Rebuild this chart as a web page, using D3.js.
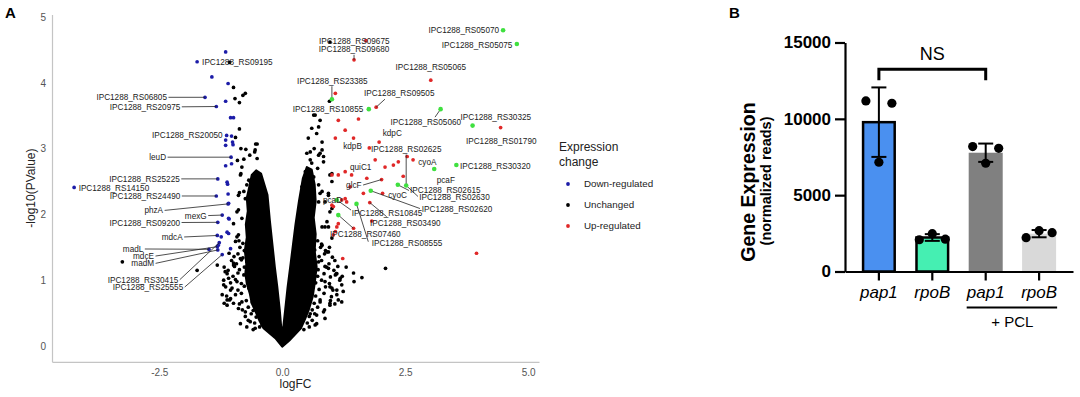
<!DOCTYPE html>
<meta charset="utf-8">
<style>
  body { margin: 0; background: #fff; }
  svg { font-family: "Liberation Sans", Arial, sans-serif; }
  .vaxis .domain { stroke: #c4c4c4; stroke-width: 1.2; }
  .vaxis text { fill: #555; font-size: 10px; }
  .baxis .domain, .baxis line { stroke: #000; stroke-width: 2.2; }
  .baxis text { fill: #000; font-size: 17px; }
</style>
<svg width="1080" height="397"></svg>
<script src="https://d3js.org/d3.v7.min.js"></script>
<script>
  // ---------- Panel A data: [logFC, -log10(PValue)] ----------
  var volcanoXTicks = [-2.5, 0, 2.5, 5.0];
  var volcanoYTicks = [0, 1, 2, 3, 4, 5];

  // outline of the dense V of unchanged genes
  var coreOutline = [
    [0.0, -0.01], [-0.14, 0.12], [-0.38, 0.27], [-0.46, 0.38], [-0.54, 0.52],
    [-0.62, 0.65], [-0.66, 0.80], [-0.72, 0.95], [-0.75, 1.10], [-0.73, 1.25],
    [-0.76, 1.45], [-0.72, 1.65], [-0.74, 1.85], [-0.70, 2.05], [-0.72, 2.25],
    [-0.66, 2.45], [-0.62, 2.60], [-0.53, 2.67], [-0.43, 2.62],
    [-0.30, 2.30], [-0.25, 1.90], [-0.20, 1.55], [-0.15, 1.20], [-0.10, 0.90],
    [-0.05, 0.55], [-0.02, 0.28],
    [0.02, 0.28], [0.06, 0.55], [0.11, 0.90], [0.17, 1.25], [0.22, 1.55],
    [0.27, 1.85], [0.34, 2.20], [0.42, 2.55], [0.50, 2.72],
    [0.60, 2.68], [0.66, 2.45], [0.68, 2.20], [0.64, 1.95], [0.68, 1.70],
    [0.66, 1.45], [0.70, 1.20], [0.66, 0.95], [0.62, 0.75], [0.54, 0.55],
    [0.46, 0.40], [0.38, 0.27], [0.14, 0.08]
  ];

  var unchangedPts = [
    [-1.07, 4.31], [-0.99, 3.93], [-0.75, 3.84], [-0.80, 3.81], [-0.96, 3.76], [-0.87, 3.70],
    [-0.87, 3.30], [-0.95, 3.17], [-0.54, 3.07], [-0.51, 3.07], [-0.84, 3.00], [-0.74, 2.99],
    [-0.55, 2.98], [-0.56, 2.95], [-0.66, 2.90], [-0.51, 2.85], [-0.78, 2.84], [-0.91, 2.82],
    [-0.82, 2.72], [-0.84, 2.62], [-0.85, 2.60], [-0.65, 2.50], [-0.68, 2.52], [-0.72, 2.45],
    [-0.87, 2.33], [-0.78, 2.35], [-0.89, 2.29], [-0.75, 2.24], [-0.89, 2.07], [-0.92, 2.04],
    [-0.82, 1.94], [-0.99, 1.86], [-0.92, 1.66], [-0.89, 1.69], [-0.95, 1.59], [-0.72, 1.53],
    [-1.16, 1.13], [-1.09, 1.03], [-1.19, 0.93], [-1.02, 0.88], [-1.22, 0.78], [-1.05, 0.72],
    [-0.95, 0.78], [-1.12, 0.62], [-0.89, 0.57], [-0.75, 0.52], [-0.82, 0.67], [-0.92, 0.98],
    [-0.78, 1.08], [-0.72, 1.28], [-0.85, 1.33], [-0.99, 1.23], [-0.68, 0.88], [-0.61, 0.67],
    [-0.65, 0.37], [-0.55, 0.27], [-0.41, 0.32], [-0.48, 0.47], [-1.32, 1.23], [-1.12, 1.10],
    [-1.19, 1.00], [-1.05, 0.85], [-1.12, 0.70], [-0.99, 0.65], [-0.85, 0.34], [-0.72, 0.29],
    [-0.99, 1.26], [-1.73, 1.15], [-3.25, 1.28],
    [-0.86, 1.50], [-0.77, 1.45], [-1.08, 1.41], [-0.98, 1.36], [-0.90, 1.40], [-0.80, 1.34],
    [-1.03, 1.30], [-0.93, 1.25], [-0.83, 1.31], [-1.18, 1.20], [-1.10, 1.15], [-0.97, 1.21],
    [-0.87, 1.16], [-0.77, 1.20], [-1.00, 1.06], [-0.90, 1.11], [-0.69, 1.05], [-1.05, 0.96],
    [-0.95, 1.01], [-0.83, 0.95], [-1.15, 0.90], [-0.90, 0.85], [-0.77, 0.91], [-1.13, 0.76],
    [-0.83, 0.80], [-1.18, 0.65], [-1.07, 0.70], [-0.87, 0.64], [-0.73, 0.69], [-0.81, 0.55],
    [-0.69, 0.59], [-0.59, 0.54], [-0.75, 0.45], [-0.63, 0.49], [-0.53, 0.44], [-0.69, 0.39],
    [-0.56, 0.35], [-0.59, 0.25], [-0.46, 0.29], [-0.88, 1.60], [-0.80, 1.56],
    [0.97, 4.62], [0.96, 3.72], [0.64, 3.51], [0.67, 3.51], [0.77, 3.43], [0.60, 3.31],
    [0.74, 3.33], [0.70, 3.23], [0.53, 3.16], [0.81, 3.10], [0.81, 2.98], [0.57, 2.95],
    [0.77, 2.93], [0.50, 2.93], [0.84, 2.88], [0.74, 2.90], [0.57, 2.83], [0.84, 2.80],
    [0.60, 2.78], [0.47, 2.65], [0.50, 2.62], [1.01, 2.62], [0.60, 2.57], [0.64, 2.57],
    [0.97, 2.60], [1.01, 2.50], [0.74, 2.45], [0.40, 2.42], [0.81, 2.35], [0.57, 2.32],
    [0.77, 2.32], [0.94, 2.32], [0.94, 2.29], [0.87, 2.19], [0.74, 2.19], [1.01, 2.09],
    [0.97, 2.04], [0.91, 1.89], [0.81, 1.81], [0.87, 1.81], [0.94, 1.81], [1.01, 1.64],
    [0.81, 1.53], [0.91, 1.43], [0.94, 1.43], [0.74, 1.28], [0.94, 1.18], [1.08, 1.08],
    [1.18, 1.03], [1.24, 0.83], [0.87, 0.98], [1.01, 0.88], [1.11, 0.78], [0.77, 0.67],
    [0.97, 0.62], [1.21, 0.67], [0.70, 0.47], [0.87, 0.42], [0.67, 0.32], [1.30, 1.20],
    [1.45, 1.11], [1.62, 1.04], [1.46, 0.98], [2.10, 1.18], [1.11, 0.85], [1.14, 0.70],
    [0.97, 0.65], [0.87, 1.21], [1.11, 1.10], [1.21, 0.93], [0.97, 0.90], [0.77, 0.70],
    [0.84, 0.52], [0.57, 0.49],
    [0.72, 1.60], [0.80, 1.55], [0.66, 1.46], [0.78, 1.50], [0.88, 1.45], [0.96, 1.50],
    [0.75, 1.36], [0.86, 1.40], [1.02, 1.35], [0.68, 1.26], [0.80, 1.30], [0.95, 1.25],
    [1.07, 1.30], [0.73, 1.16], [0.90, 1.20], [1.05, 1.15], [1.13, 1.21], [0.72, 1.06],
    [0.85, 1.10], [0.98, 1.05], [1.10, 1.10], [1.22, 1.06], [0.68, 0.96], [0.80, 1.00],
    [0.96, 0.95], [1.17, 1.00], [0.75, 0.86], [0.88, 0.90], [1.03, 0.85], [0.68, 0.76],
    [0.85, 0.80], [1.00, 0.75], [0.65, 0.65], [0.98, 0.69], [1.07, 0.64], [0.61, 0.55],
    [0.72, 0.59], [0.86, 0.55], [0.55, 0.45], [0.66, 0.49], [0.51, 0.35], [0.61, 0.39],
    [0.70, 0.34], [0.44, 0.25], [0.55, 0.29], [0.72, 2.70], [0.65, 3.00]
  ];

  var downPts = [
    [-1.15, 4.47], [-1.73, 4.32], [-1.43, 4.09], [-1.10, 3.99], [-1.57, 3.78], [-1.15, 3.72],
    [-1.34, 3.64], [-1.05, 3.47], [-0.99, 3.47], [-1.13, 3.20], [-1.03, 3.19], [-1.15, 3.13],
    [-1.01, 3.10], [-1.15, 3.05], [-1.00, 3.06], [-1.04, 2.87], [-1.15, 2.74], [-1.03, 2.77],
    [-1.31, 2.54], [-1.12, 2.49], [-1.11, 2.46], [-4.23, 2.41], [-1.34, 2.28], [-1.10, 2.31],
    [-1.10, 2.16], [-1.22, 1.99], [-1.08, 1.93], [-1.31, 1.88], [-1.12, 1.73], [-1.32, 1.68],
    [-1.24, 1.66], [-1.28, 1.57], [-1.49, 1.47], [-1.32, 1.51], [-1.31, 1.46], [-1.05, 1.48],
    [-1.22, 1.39], [-1.09, 2.17], [-1.09, 1.94], [-1.09, 1.71], [-1.30, 1.53]
  ];

  var upPts = [
    [1.70, 4.64], [1.46, 4.35], [3.02, 4.04], [1.08, 3.84], [1.91, 3.63], [4.44, 3.32],
    [1.14, 3.43], [1.55, 3.45], [1.28, 3.28], [1.08, 3.16], [1.45, 3.16], [1.97, 3.10],
    [1.77, 3.01], [1.89, 2.83], [2.09, 2.72], [2.26, 2.75], [2.36, 2.80], [2.54, 2.88],
    [2.66, 2.83], [1.28, 2.65], [1.41, 2.60], [1.72, 2.55], [2.02, 2.53], [2.46, 2.58],
    [1.01, 2.60], [1.14, 2.60], [1.38, 2.42], [2.04, 2.32], [1.21, 2.22], [1.01, 2.14],
    [1.31, 2.19], [1.78, 2.18], [1.65, 2.32], [1.82, 1.90], [1.14, 1.86], [1.11, 1.81],
    [1.04, 1.69], [1.08, 1.74], [1.45, 1.79], [1.23, 1.33], [3.95, 1.41], [1.28, 2.24],
    [1.04, 2.12]
  ];

  // highlighted genes (green)
  var highlightPts = [
    [4.49, 4.80], [4.77, 4.59], [1.01, 3.75], [1.76, 3.60], [3.22, 3.60], [3.87, 3.35],
    [3.09, 2.69], [3.54, 2.75], [2.35, 2.45], [2.52, 2.44], [1.80, 2.36], [1.11, 2.22],
    [1.51, 2.16], [1.14, 1.99]
  ];

  // gene labels: name and the point they belong to
  var labelGenes = [
    ["IPC1288_RS09195", -1.73, 4.32], ["IPC1288_RS06805", -1.57, 3.78],
    ["IPC1288_RS20975", -1.34, 3.64], ["IPC1288_RS20050", -1.13, 3.20],
    ["leuD", -1.04, 2.87], ["IPC1288_RS25225", -1.31, 2.54],
    ["IPC1288_RS14150", -4.23, 2.41], ["IPC1288_RS24490", -1.34, 2.28],
    ["phzA", -1.10, 2.16], ["mexG", -1.22, 1.99],
    ["IPC1288_RS09200", -1.31, 1.88], ["mdcA", -1.32, 1.68],
    ["madL", -1.49, 1.47], ["mdcE", -1.32, 1.51],
    ["madM", -1.31, 1.46], ["IPC1288_RS30415", -1.28, 1.57],
    ["IPC1288_RS25555", -1.22, 1.39],
    ["IPC1288_RS05070", 4.49, 4.80], ["IPC1288_RS05075", 4.77, 4.59],
    ["IPC1288_RS09675", 1.70, 4.64], ["IPC1288_RS09680", 1.46, 4.35],
    ["IPC1288_RS05065", 3.02, 4.04], ["IPC1288_RS23385", 1.01, 3.75],
    ["IPC1288_RS09505", 1.91, 3.63], ["IPC1288_RS10855", 1.76, 3.60],
    ["IPC1288_RS05060", 3.22, 3.60], ["IPC1288_RS30325", 3.87, 3.35],
    ["IPC1288_RS01790", 4.44, 3.32], ["kdpC", 1.97, 3.10],
    ["kdpB", 1.45, 3.16], ["IPC1288_RS02625", 2.52, 2.44],
    ["cyoA", 2.66, 2.83], ["pcaF", 3.09, 2.69],
    ["IPC1288_RS30320", 3.54, 2.75], ["quiC1", 1.28, 2.65],
    ["glcF", 2.02, 2.53], ["IPC1288_RS02615", 2.35, 2.45],
    ["IPC1288_RS02630", 2.52, 2.44], ["cyoC", 2.04, 2.32],
    ["IPC1288_RS02620", 1.80, 2.36], ["pcaD", 1.11, 2.22],
    ["IPC1288_RS10845", 1.11, 2.22], ["IPC1288_RS03490", 1.78, 2.18],
    ["IPC1288_RS07460", 1.14, 1.99], ["IPC1288_RS08555", 1.51, 2.16]
  ];

  // label placement in px relative to the point: dx, dy, anchor, line start
  var labelNudge = [
    [5, 3.5, "start"], [-38, 3, "end", "auto"], [-36, 3.3, "end", "auto"], [-4, 3, "end"],
    [-65, 3, "end", "auto"], [-38, 3, "end", "auto"], [4.5, 3.5, "start"], [-36, 3, "end", "auto"],
    [-65, 9.5, "end", "auto"], [-15.5, 3.5, "end", "auto"], [-37.7, 3.2, "end", "auto"],
    [-34.6, 4.5, "end", "auto"], [-65.6, 2.7, "end", "auto"], [-63.3, 12.4, "end", "auto"],
    [-63.7, 16.4, "end", "auto"], [-41, 40, "end", "auto"], [-39, 35.5, "end", "auto"],
    [-4, 3.3, "end"], [-4.5, 3.5, "end"],
    [-11.6, 3.3, "middle"], [0, -7.3, "middle", [0, -5]],
    [0, -9.7, "middle"], [0.5, -15.3, "middle", [0, -13]],
    [23, -11, "middle", [8.8, -8]], [-5.5, 3, "end"],
    [-14.8, 15.4, "middle", [-5.6, 8]], [23.2, -5.6, "middle"],
    [0.6, 16, "middle"], [3.6, -6, "start"],
    [-1, 11.4, "middle"], [0, -33.5, "middle", [0, -31]],
    [5.2, 4.7, "start"], [11.6, 14, "middle"],
    [3.6, 3.5, "start"], [4.8, -2, "start"],
    [-20, 8.5, "end", "auto"], [12.2, 8.4, "start", [11.2, 5.7]],
    [13, 14.6, "start", [11.8, 11]], [5.7, 4.7, "start"],
    [51, 21.3, "start", [49.2, 17.8]], [-4.3, 3, "middle"],
    [15, 16, "start", [14.2, 10.1]], [0.2, 23.4, "start", [16.9, 14.1]],
    [-8.3, 22, "start", [15, 13.2]], [15.2, 42, "start", [11.8, 37.8]]
  ];

  var legendKeys = ["Down-regulated", "Unchanged", "Up-regulated"];

  // ---------- Panel B data ----------
  var barGenes = ["pap1", "rpoB", "pap1", "rpoB"];
  // replicates, left / middle / right dot
  var barReps = [
    [11170, 7155, 11020],
    [2080, 2480, 2120],
    [8180, 7090, 8070],
    [2215, 2675, 2545]
  ];
  var barTicks = [0, 5000, 10000, 15000];
  var barFill = ["#4a90f0", "#45efb2", "#808080", "#d9d9d9"];
  var barOutlined = [true, true, false, false];

  var svg = d3.select("svg");
  svg.append("rect").attr("width", 1080).attr("height", 397).attr("fill", "#fff");

  // ================= Panel A =================
  var x = d3.scaleLinear().domain([-4.68, 5.22]).range([52, 539]);
  var y = d3.scaleLinear().domain([-0.24, 5.04]).range([361.8, 14.4]);
  var col = d3.scaleOrdinal().domain(legendKeys).range(["#1c1ca8", "#000", "#e02828"]);

  var gA = svg.append("g");

  gA.append("g")
    .attr("class", "vaxis")
    .attr("transform", "translate(0," + y.range()[0] + ")")
    .call(d3.axisBottom(x).tickValues(volcanoXTicks)
      .tickFormat(function(d) { return d.toFixed(1); })
      .tickSize(0).tickSizeOuter(0).tickPadding(7));

  gA.append("g")
    .attr("class", "vaxis")
    .attr("transform", "translate(" + x.range()[0] + ",0)")
    .call(d3.axisLeft(y).tickValues(volcanoYTicks).tickFormat(d3.format("d"))
      .tickSize(0).tickSizeOuter(0).tickPadding(6));

  gA.append("text")
    .attr("x", d3.mean(x.range())).attr("y", 387.5)
    .attr("text-anchor", "middle").attr("font-size", 12).attr("fill", "#222")
    .text("logFC");

  gA.append("text")
    .attr("transform", "translate(35," + d3.mean(y.range()) + ") rotate(-90)")
    .attr("text-anchor", "middle").attr("font-size", 12).attr("fill", "#222")
    .text("-log10(PValue)");

  // dense core
  gA.append("path")
    .datum(coreOutline)
    .attr("d", d3.line()
      .x(function(d) { return x(d[0]); })
      .y(function(d) { return y(d[1]); })
      .curve(d3.curveLinearClosed))
    .attr("fill", "#000")
    .attr("stroke", "#000")
    .attr("stroke-width", 2)
    .attr("stroke-linejoin", "round");

  function dots(data, fill) {
    gA.append("g")
      .selectAll("circle")
      .data(data)
      .enter()
      .append("circle")
      .attr("cx", function(d) { return x(d[0]); })
      .attr("cy", function(d) { return y(d[1]); })
      .attr("r", 1.85)
      .attr("fill", fill);
  }
  dots(unchangedPts, col("Unchanged"));
  dots(downPts, col("Down-regulated"));
  dots(upPts, col("Up-regulated"));

  // label leader lines
  var lab = labelGenes.map(function(d, i) {
    var n = labelNudge[i];
    return { name: d[0], px: x(d[1]), py: y(d[2]), dx: n[0], dy: n[1], anchor: n[2], line: n[3] };
  });

  gA.append("g")
    .selectAll("line")
    .data(lab.filter(function(d) { return d.line; }))
    .enter()
    .append("line")
    .attr("x1", function(d) { return d.line === "auto" ? d.px + d.dx + 1.5 : d.px + d.line[0]; })
    .attr("y1", function(d) { return d.line === "auto" ? d.py + d.dy - 3 : d.py + d.line[1]; })
    .attr("x2", function(d) { return d.px; })
    .attr("y2", function(d) { return d.py; })
    .attr("stroke", "#222")
    .attr("stroke-width", 0.8);

  gA.append("g")
    .selectAll("circle")
    .data(highlightPts)
    .enter()
    .append("circle")
    .attr("cx", function(d) { return x(d[0]); })
    .attr("cy", function(d) { return y(d[1]); })
    .attr("r", 2.3)
    .attr("fill", "#3fe03f");

  gA.append("g")
    .attr("font-size", 8.2)
    .attr("fill", "#222")
    .selectAll("text")
    .data(lab)
    .enter()
    .append("text")
    .attr("x", function(d) { return d.px + d.dx; })
    .attr("y", function(d) { return d.py + d.dy; })
    .attr("text-anchor", function(d) { return d.anchor; })
    .text(function(d) { return d.name; });

  // legend
  var leg = svg.append("g").attr("transform", "translate(559,0)");
  leg.append("text").attr("y", 151).attr("font-size", 12).attr("fill", "#222").text("Expression");
  leg.append("text").attr("y", 165.5).attr("font-size", 12).attr("fill", "#222").text("change");
  var li = leg.selectAll("g.item")
    .data(legendKeys)
    .enter()
    .append("g")
    .attr("class", "item")
    .attr("transform", function(d, i) { return "translate(0," + (184 + i * 21) + ")"; });
  li.append("circle").attr("cx", 9).attr("r", 1.9).attr("fill", col);
  li.append("text").attr("x", 25).attr("dy", "0.35em").attr("font-size", 9.8).attr("fill", "#222")
    .text(function(d) { return d; });

  svg.append("text").attr("x", 5).attr("y", 18).attr("font-size", 15).attr("font-weight", "bold").text("A");
  svg.append("text").attr("x", 729).attr("y", 18).attr("font-size", 15).attr("font-weight", "bold").text("B");

  // ================= Panel B =================
  var yB = d3.scaleLinear().domain([0, 15000]).range([271.5, 42.5]);
  var xB = d3.scaleBand()
    .domain(d3.range(barGenes.length))
    .range([845, 1073])
    .paddingInner(0.363)
    .paddingOuter(0.316);

  var bars = barReps.map(function(r, i) {
    return { i: i, mean: d3.mean(r), sd: d3.deviation(r), reps: r };
  });

  var gB = svg.append("g");

  gB.selectAll("rect.bar")
    .data(bars)
    .enter()
    .append("rect")
    .attr("class", "bar")
    .attr("x", function(d) { return xB(d.i) + (barOutlined[d.i] ? 1.2 : 0); })
    .attr("width", function(d) { return xB.bandwidth() - (barOutlined[d.i] ? 2.4 : 0); })
    .attr("y", function(d) { return yB(d.mean); })
    .attr("height", function(d) { return yB(0) - yB(d.mean); })
    .attr("fill", function(d) { return barFill[d.i]; })
    .attr("stroke", function(d) { return barOutlined[d.i] ? "#000" : "none"; })
    .attr("stroke-width", 2.5);

  // error bars (mean +/- SD)
  var eb = gB.selectAll("g.err")
    .data(bars)
    .enter()
    .append("g")
    .attr("class", "err")
    .attr("stroke", "#000")
    .attr("stroke-width", 2)
    .attr("transform", function(d) { return "translate(" + (xB(d.i) + xB.bandwidth() / 2) + ",0)"; });
  eb.append("line")
    .attr("y1", function(d) { return yB(d.mean - d.sd); })
    .attr("y2", function(d) { return yB(d.mean + d.sd); });
  eb.append("line").attr("x1", -7.5).attr("x2", 7.5)
    .attr("y1", function(d) { return yB(d.mean + d.sd); })
    .attr("y2", function(d) { return yB(d.mean + d.sd); });
  eb.append("line").attr("x1", -7.5).attr("x2", 7.5)
    .attr("y1", function(d) { return yB(d.mean - d.sd); })
    .attr("y2", function(d) { return yB(d.mean - d.sd); });

  // replicate dots
  var jitter = [-13, 0, 13];
  eb.selectAll("circle")
    .data(function(d) { return d.reps; })
    .enter()
    .append("circle")
    .attr("cx", function(d, j) { return jitter[j]; })
    .attr("cy", function(d) { return yB(d); })
    .attr("r", 4.6)
    .attr("fill", "#000")
    .attr("stroke", "none");

  gB.append("g")
    .attr("class", "baxis")
    .attr("transform", "translate(845,0)")
    .call(d3.axisLeft(yB).tickValues(barTicks).tickFormat(d3.format("d"))
      .tickSize(10).tickSizeOuter(0).tickPadding(4))
    .selectAll("text").attr("font-weight", "bold");

  gB.append("g")
    .attr("class", "baxis")
    .attr("transform", "translate(0," + yB(0) + ")")
    .call(d3.axisBottom(xB).tickFormat(function(i) { return barGenes[i]; })
      .tickSize(9).tickSizeOuter(0).tickPadding(5.5))
    .selectAll("text").attr("font-style", "italic");

  // + PCL group line
  gB.append("line")
    .attr("x1", xB(2) - 2).attr("x2", xB(3) + xB.bandwidth() + 1)
    .attr("y1", 307.5).attr("y2", 307.5)
    .attr("stroke", "#000").attr("stroke-width", 2);
  gB.append("text")
    .attr("x", (xB(2) + xB(3) + xB.bandwidth()) / 2).attr("y", 327)
    .attr("text-anchor", "middle").attr("font-size", 15)
    .text("+ PCL");

  // NS bracket between pap1 groups
  var bx1 = xB(0) + xB.bandwidth() / 2, bx2 = xB(2) + xB.bandwidth() / 2, by = yB(13250);
  gB.append("path")
    .attr("d", "M" + bx1 + "," + (by + 11) + "V" + by + "H" + bx2 + "V" + (by + 11))
    .attr("fill", "none").attr("stroke", "#000").attr("stroke-width", 3);
  gB.append("text")
    .attr("x", (bx1 + bx2) / 2).attr("y", by - 9)
    .attr("text-anchor", "middle").attr("font-size", 18)
    .text("NS");

  // y axis titles
  gB.append("text")
    .attr("transform", "translate(755," + 182 + ") rotate(-90)")
    .attr("text-anchor", "middle").attr("font-size", 19.5).attr("font-weight", "bold")
    .text("Gene Expression");
  gB.append("text")
    .attr("transform", "translate(771," + 181 + ") rotate(-90)")
    .attr("text-anchor", "middle").attr("font-size", 14.5).attr("font-weight", "bold")
    .text("(normalized reads)");
</script>
